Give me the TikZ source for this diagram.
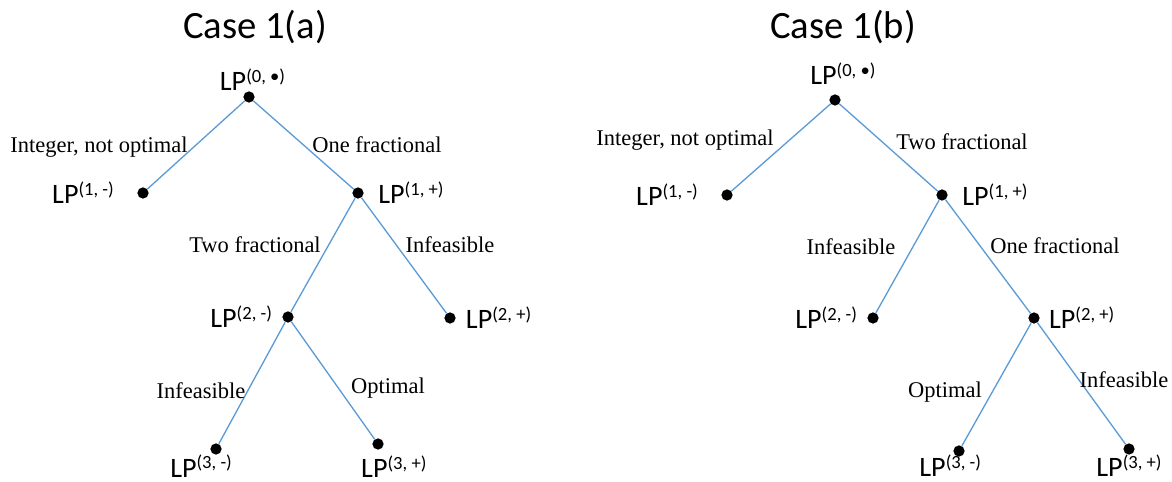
\documentclass[tikz,border=0pt]{standalone}
\usepackage{fontspec}
\setmainfont{Liberation Serif}
\newfontfamily\calfont{Carlito}
\usetikzlibrary{positioning}
\definecolor{branchblue}{RGB}{91,155,213}
\newcommand{\lpname}[1]{LP\raisebox{4.6pt}{\fontsize{10.6}{12}\selectfont#1}}
\tikzset{
  dot/.style={circle, fill=black, inner sep=0pt, minimum size=6.4pt},
  branch/.style={draw=branchblue, line width=0.75pt},
  lp/.style={font=\calfont\fontsize{16}{19}\selectfont, inner sep=0pt},
  lbl/.style={font=\fontsize{12.8}{15}\selectfont, inner sep=0pt},
  title/.style={font=\calfont\fontsize{22}{26}\selectfont, inner sep=0pt}
}
\begin{document}
\begin{tikzpicture}[x=0.02cm, y=-0.02cm]
\useasboundingbox (0,0) rectangle (1172,482);

% titles
\node[title] (ta) at (255,27) {Case 1(a)};
\node[title] (tb) at (843,27) {Case 1(b)};

% branching points
\foreach \n/\x/\y in {a0/249/97, a1m/143/193, a1p/358/193, a2m/288/317, a2p/450/318, a3m/216/449, a3p/378/444,
  b0/835/100, b1m/727/195, b1p/942/195, b2m/873/318, b2p/1034/318, b3m/959/451, b3p/1129/449}
  \node[dot] (\n) at (\x,\y) {};

% branches
\foreach \f/\t in {a0/a1m, a0/a1p, a1p/a2m, a1p/a2p, a2m/a3m, a2m/a3p,
  b0/b1m, b0/b1p, b1p/b2m, b1p/b2p, b2p/b3m, b2p/b3p}
  \draw[branch] (\f) -- (\t);

% subproblems, case 1(a)
\node[lp, above=0pt of a0, xshift=2pt] (la0) {\lpname{(0, •)}};
\node[lp, left=13pt of a1m] (la1m) {\lpname{(1, -)}};
\node[lp, right=8pt of a1p] (la1p) {\lpname{(1, +)}};
\node[lp, left=5.5pt of a2m] (la2m) {\lpname{(2, -)}};
\node[lp, right=5.5pt of a2p] (la2p) {\lpname{(2, +)}};
\node[lp, below=0pt of a3m, xshift=-8.5pt] (la3m) {\lpname{(3, -)}};
\node[lp, below=3pt of a3p, xshift=9pt] (la3p) {\lpname{(3, +)}};

% subproblems, case 1(b)
\node[lp, above=5pt of b0, xshift=4.5pt] (lb0) {\lpname{(0, •)}};
\node[lp, left=13pt of b1m] (lb1m) {\lpname{(1, -)}};
\node[lp, right=8pt of b1p] (lb1p) {\lpname{(1, +)}};
\node[lp, left=5.5pt of b2m] (lb2m) {\lpname{(2, -)}};
\node[lp, right=5pt of b2p] (lb2p) {\lpname{(2, +)}};
\node[lp, below=-1.2pt of b3m, xshift=-5pt] (lb3m) {\lpname{(3, -)}};
\node[lp, below=-0.2pt of b3p] (lb3p) {\lpname{(3, +)}};

% outcomes
\node[lbl] (ea1m) at (99,147) {Integer, not optimal};
\node[lbl] (ea1p) at (377,145) {One fractional};
\node[lbl] (ea2m) at (255,245) {Two fractional};
\node[lbl] (ea2p) at (450,245) {Infeasible};
\node[lbl] (ea3m) at (201,391) {Infeasible};
\node[lbl] (ea3p) at (388,388) {Optimal};

\node[lbl] (eb1m) at (685,140) {Integer, not optimal};
\node[lbl] (eb1p) at (962,142) {Two fractional};
\node[lbl] (eb2m) at (851,247) {Infeasible};
\node[lbl] (eb2p) at (1055,246) {One fractional};
\node[lbl] (eb3m) at (945,392) {Optimal};
\node[lbl] (eb3p) at (1124,380) {Infeasible};
\end{tikzpicture}
\end{document}
